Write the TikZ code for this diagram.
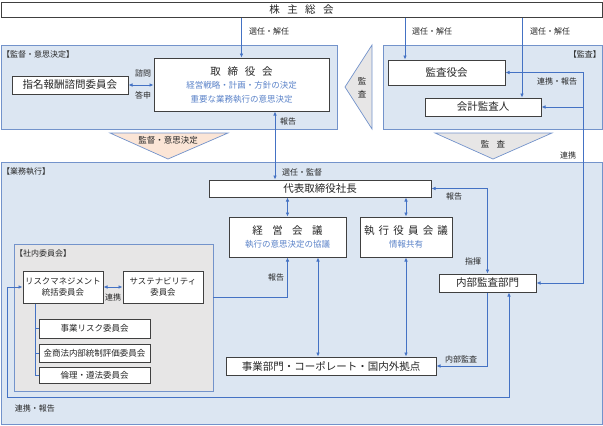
\documentclass[tikz,border=0pt]{standalone}
\usepackage{fontspec}
\setmainfont{Noto Sans CJK JP}
\usepackage{tikz}
\usetikzlibrary{arrows.meta}
\definecolor{regfill}{HTML}{DCE6F2}
\definecolor{regline}{HTML}{7393CB}
\definecolor{linkblue}{HTML}{4472C4}
\definecolor{boxline}{HTML}{404040}
\definecolor{txtblue}{HTML}{5B83C9}
\definecolor{peach}{HTML}{FBE5D6}
\definecolor{palegray}{HTML}{E7E6E6}
\definecolor{txt}{HTML}{262626}
\newcommand{\jfs}[1]{\fontsize{#1}{#1}\selectfont}
\newcommand{\jsp}[1][0.7em]{\hspace{#1}}
\tikzset{
  region/.style={draw=regline, fill=regfill, line width=0.7pt, inner sep=0pt},
  box/.style={draw=boxline, fill=white, line width=1pt, inner sep=0pt, text=txt, align=center, font=\jfs{10.5}},
  lbl/.style={inner sep=0pt, text=txt, font=\jfs{8}},
  note/.style={text=txtblue, font=\jfs{8.5}},
  conn/.style={draw=linkblue, line width=0.7pt, -{Latex[length=4pt,width=3.5pt]}},
  twoway/.style={conn, {Latex[length=4pt,width=3.5pt]}-{Latex[length=4pt,width=3.5pt]}},
  tree/.style={draw=linkblue, line width=0.6pt}
}

\begin{document}
\begin{tikzpicture}[x=1pt, y=-1pt]
\useasboundingbox (0,0) rectangle (603,426);
% areas
\node[region, minimum width=336pt, minimum height=84pt] (sup) at (169,87) {};
\node[region, minimum width=219pt, minimum height=84pt] (aud) at (492.5,87) {};
\node[region, minimum width=601pt, minimum height=262pt] (exe) at (301.5,293) {};
\node[region, fill=palegray, minimum width=199pt, minimum height=147pt] (com) at (113.5,317.5) {};
\draw[region, fill=peach] (110,133) -- (228,133) -- (168,159) -- cycle;
\draw[region, fill=palegray] (372,45) -- (372,129) -- (345,87) -- cycle;
\draw[region, fill=palegray] (435,133) -- (552,133) -- (493,159) -- cycle;
\node[lbl, anchor=west] (tsup) at (2,54) {【監督・意思決定】};
\node[lbl, anchor=east] (taud) at (601,54) {【監査】};
\node[lbl, anchor=west] (texe) at (2,172) {【業務執行】};
\node[lbl, anchor=west] (tcom) at (15,253) {【社内委員会】};
\node[lbl, font=\jfs{8.5}] (tri1) at (168,140) {監督・意思決定};
\node[lbl, font=\jfs{8.5}, align=center] (tri2) at (362,87.5) {監\\[5pt]査};
\node[lbl, font=\jfs{8.5}] (tri3) at (493,144) {監\jsp[0.85em]査};

% boxes
\node[box, minimum width=601pt, minimum height=15pt] (soukai) at (301.5,9.5) {株\jsp 主\jsp 総\jsp 会};
\node[box, minimum width=175pt, minimum height=53pt] (board) at (241.5,84.5)
  {取\jsp[0.65em]締\jsp[0.65em]役\jsp[0.65em]会\\[3pt]
   {\color{txtblue}\jfs{8.5}経営戦略・計画・方針の決定}\\[3pt]
   {\color{txtblue}\jfs{8.5}重要な業務執行の意思決定}};
\node[box, minimum width=116pt, minimum height=18pt] (nom) at (70,85) {指名報酬諮問委員会};
\node[box, minimum width=117pt, minimum height=25pt] (kab) at (446.5,72.5) {監査役会};
\node[box, minimum width=116pt, minimum height=18pt] (acct) at (483,107) {会計監査人};
\node[box, minimum width=222pt, minimum height=17pt] (ceo) at (320,188.5) {代表取締役社長};
\node[box, minimum width=117pt, minimum height=40pt] (mgmt) at (287.5,237)
  {経\jsp[0.9em]営\jsp[0.9em]会\jsp[0.9em]議\\[2pt]{\color{txtblue}\jfs{8.5}執行の意思決定の協議}};
\node[box, minimum width=92pt, minimum height=40pt] (offc) at (406,237)
  {執\jsp[0.4em]行\jsp[0.4em]役\jsp[0.4em]員\jsp[0.4em]会\jsp[0.4em]議\\[2pt]{\color{txtblue}\jfs{8.5}情報共有}};
\node[box, minimum width=97pt, minimum height=18pt] (iad) at (487.5,283) {内部監査部門};
\node[box, minimum width=210pt, minimum height=18pt] (biz) at (331,366) {事業部門・コーポレート・国内外拠点};
\node[box, font=\jfs{8.4}, minimum width=80pt, minimum height=32pt] (risk) at (63,287) {リスクマネジメント\\[3pt]統括委員会};
\node[box, font=\jfs{8.4}, minimum width=80pt, minimum height=32pt] (sus) at (163,287) {サステナビリティ\\[3pt]委員会};
\node[box, font=\jfs{8.5}, minimum width=111pt, minimum height=19pt] (crisk) at (94.5,328.5) {事業リスク委員会};
\node[box, font=\jfs{8.5}, minimum width=111pt, minimum height=18pt] (jsox) at (94.5,353) {金商法内部統制評価委員会};
\node[box, font=\jfs{8.5}, minimum width=111pt, minimum height=16pt] (ethic) at (94.5,375) {倫理・遵法委員会};

% connectors
\draw[conn] (soukai.south -| board.north) -- (board.north);
\draw[conn] (soukai.south -| 405,0) -- (kab.north -| 405,0);
\draw[conn] (soukai.south -| 522,0) -- (acct.north -| 522,0);
\draw[twoway] (nom.east) -- (board.west |- nom.east);
\draw[twoway] (board.south -| 275,0) -- (ceo.north -| 275,0);
\draw[twoway] (kab.east) -- (kab.east -| 583,0) -- (iad.east -| 583,0) -- (iad.east);
\draw[conn] (acct.east -| 583,0) -- (acct.east);
\draw[twoway] (ceo.south -| mgmt.north) -- (mgmt.north);
\draw[twoway] (ceo.south -| offc.north) -- (offc.north);
\draw[twoway] (ceo.east) -| (iad.north);
\draw[twoway] (mgmt.south -| 318,0) -- (biz.north -| 318,0);
\draw[twoway] (offc.south) -- (biz.north -| offc.south);
\draw[conn] (iad.south) |- (biz.east);
\draw[conn] ([yshift=20.5pt]com.east) -| (mgmt.south);
\draw[twoway] (risk.east) -- (sus.west);
\draw[tree] (risk.south -| 35,0) |- (ethic.west);
\draw[tree] (crisk.west -| 35,0) -- (crisk.west);
\draw[tree] (jsox.west -| 35,0) -- (jsox.west);
\draw[twoway] (risk.west) -- (risk.west -| 7,0) |- (509,397) -- (iad.south -| 509,0);

% labels
\node[lbl] (sel1) at (269,31) {選任・解任};
\node[lbl] (sel2) at (432,31) {選任・解任};
\node[lbl] (sel3) at (550,31) {選任・解任};
\node[lbl] (ask) at (143,73) {諮問};
\node[lbl] (ans) at (143,95) {答申};
\node[lbl] (rep1) at (288,121) {報告};
\node[lbl] (sup2) at (302,172) {選任・監督};
\node[lbl] (corep1) at (557,81) {連携・報告};
\node[lbl] (co1) at (568,155) {連携};
\node[lbl] (rep2) at (454,196) {報告};
\node[lbl] (cmd) at (473,261) {指揮};
\node[lbl] (ia) at (461,359) {内部監査};
\node[lbl] (rep3) at (276,277) {報告};
\node[lbl] (co2) at (113,297) {連携};
\node[lbl] (corep2) at (35,408) {連携・報告};
\end{tikzpicture}
\end{document}
